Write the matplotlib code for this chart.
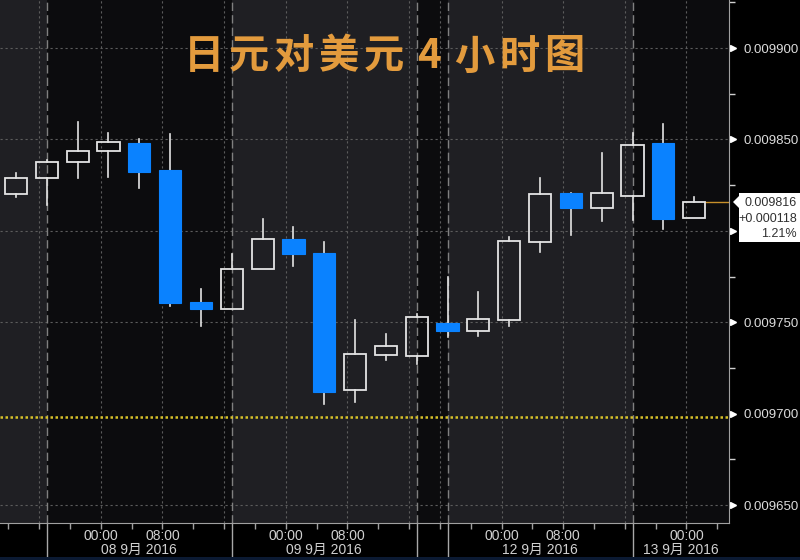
import matplotlib

matplotlib.use("Agg")
import matplotlib.pyplot as plt
from matplotlib.patches import Rectangle, Polygon

plt.rcParams["font.family"] = ["Noto Sans CJK SC", "DejaVu Sans"]

# 4-hour JPY/USD candles
opens = [0.0098201, 0.0098289, 0.0098376, 0.0098436, 0.0098480, 0.0098332,
         0.0097610, 0.0097572, 0.0097791, 0.0097955, 0.0097878, 0.0097129,
         0.0097321, 0.0097315, 0.0097496, 0.0097452, 0.0097512, 0.0097939,
         0.0098207, 0.0098125, 0.0098190, 0.0098480, 0.0098070]
highs = [0.0098316, 0.0098387, 0.0098595, 0.0098535, 0.0098502, 0.0098529,
         0.0097682, 0.0097873, 0.0098064, 0.0098021, 0.0097939, 0.0097512,
         0.0097435, 0.0097545, 0.0097747, 0.0097665, 0.0097966, 0.0098289,
         0.0098207, 0.0098425, 0.0098535, 0.0098584, 0.0098185]
lows = [0.0098185, 0.0098141, 0.0098289, 0.0098294, 0.0098234, 0.0097589,
        0.0097479, 0.0097572, 0.0097791, 0.0097807, 0.0097052, 0.0097063,
        0.0097293, 0.0097271, 0.0097419, 0.0097424, 0.0097479, 0.0097884,
        0.0097977, 0.0098053, 0.0098059, 0.0098010, 0.0098070]
closes = [0.0098289, 0.0098376, 0.0098436, 0.0098486, 0.0098322, 0.0097605,
          0.0097572, 0.0097791, 0.0097955, 0.0097873, 0.0097118, 0.0097326,
          0.0097370, 0.0097528, 0.0097452, 0.0097517, 0.0097944, 0.0098201,
          0.0098125, 0.0098207, 0.0098469, 0.0098064, 0.0098160]

prev_close = 0.009698
last_label = ["0.009816", "+0.000118", "1.21%"]
title = "日元对美元4小时图"

y_ticks = [0.009650, 0.009700, 0.009750, 0.009800, 0.009850, 0.009900]
y_minor = [0.009675, 0.009725, 0.009775, 0.009825, 0.009875, 0.009925]

# x positions are candle indices; 00:00/08:00 fall between candles
hour_ticks = [2.75, 4.75, 8.75, 10.75, 15.75, 17.75, 21.75]
hour_labels = ["00:00", "08:00", "00:00", "08:00", "00:00", "08:00", "00:00"]
grid_x = [0.75, 2.75, 4.75, 6.75, 8.75, 10.75, 12.75, 13.75, 15.75, 17.75,
          19.75, 21.75]
session_x = [1, 7, 13, 14, 20]
dark_spans = [(1, 7), (13, 14), (20, 23.2)]
date_x = [4.0, 10.0, 17.0, 21.57]
date_labels = ["08 9月 2016", "09 9月 2016", "12 9月 2016", "13 9月 2016"]

BLUE = "#0a82ff"
WHITE = "#e4e4e4"
LBL = ["Liberation Sans", "Noto Sans CJK SC"]

fig = plt.figure(figsize=(8, 5.6), dpi=100, facecolor="black")
ax = fig.add_axes([0, 37 / 560, 729 / 800, 523 / 560])
ax.set_facecolor("#1f1f23")
ax.set_xlim(-0.519, 23.13)
ax.set_ylim(0.0096402, 0.0099263)

for a, b in dark_spans:
    ax.axvspan(a, b, color="#0c0c0e", zorder=0, lw=0)

for y in y_ticks:
    if y != 0.009700:
        ax.axhline(y, color="#5c5c5c", lw=0.8, ls=(0, (2, 2.5)), zorder=1)
for x in grid_x:
    ax.axvline(x, color="#5c5c5c", lw=0.8, ls=(0, (2, 2.5)), zorder=1)
for x in session_x:
    ax.axvline(x, color="#808080", lw=1.0, ls=(0, (6, 3)), zorder=1)

ax.axhline(prev_close, color="#d8c22a", lw=1.8, ls=(0, (1, 1)), zorder=2)

w = 0.72
for i, (o, h, l, c) in enumerate(zip(opens, highs, lows, closes)):
    top, bot = max(o, c), min(o, c)
    if c >= o:
        ax.plot([i, i], [top, h], color=WHITE, lw=1.2, zorder=3)
        ax.plot([i, i], [l, bot], color=WHITE, lw=1.2, zorder=3)
        ax.add_patch(Rectangle((i - w / 2, bot), w, top - bot, fill=False,
                               ec=WHITE, lw=1.3, zorder=4))
    else:
        ax.plot([i, i], [l, h], color=WHITE, lw=1.2, zorder=3)
        ax.add_patch(Rectangle((i - w / 2, bot), w, top - bot, fc=BLUE,
                               ec=BLUE, lw=0.8, zorder=4))

# last price line to the axis
n = len(closes)
ax.plot([n - 1 + w / 2, 23.13], [closes[-1], closes[-1]], color="#c8902a",
        lw=1.0, zorder=3)

for s in ["top", "left"]:
    ax.spines[s].set_visible(False)
ax.spines["right"].set_color("#a0a0a0")
ax.spines["bottom"].set_color("#a0a0a0")

ax.yaxis.tick_right()
ax.set_yticks(y_ticks)
ax.set_yticklabels(["%.6f" % v if v != 0.009800 else "" for v in y_ticks],
                   family=LBL)
ax.set_yticks(y_minor, minor=True)
ax.tick_params(axis="y", which="major", length=0, pad=10.5, labelsize=9.5,
               labelcolor="#dcdcdc")
ax.tick_params(axis="y", which="minor", length=4, width=1, color="#d0d0d0")
ytr = ax.get_yaxis_transform()
ax.plot([1.006] * len(y_ticks), y_ticks, ls="none", marker=">",
        ms=5, color="white", transform=ytr, clip_on=False)

ax.set_xticks(hour_ticks)
ax.set_xticklabels(hour_labels, family=LBL)
ax.set_xticks([k + 0.75 for k in range(-1, 23)], minor=True)
ax.tick_params(axis="x", which="both", length=4, width=1, color="#a0a0a0",
               labelsize=10, labelcolor="#d0d0d0", pad=0.5)

xtr = ax.get_xaxis_transform()
for x in session_x:
    ax.plot([x, x], [0, -0.066], color="#a8a8a8", lw=1.0, transform=xtr,
            clip_on=False)
for x, lab in zip(date_x, date_labels):
    ax.text(x, -0.052, lab, transform=xtr, ha="center", va="center",
            fontsize=10, color="#d0d0d0", family=LBL)

# bottom strip
fig.add_artist(Rectangle((0, 0), 1, 3.5 / 560, transform=fig.transFigure,
                         fc="#0b1a33", ec="none"))

# last price box (drawn above the axis tick markers)
bx0, bx1, by0, by1, py = 733 / 800, 1.0, 1 - 242 / 560, 1 - 193 / 560, 1 - 202 / 560
fig.add_artist(Polygon([(bx0 + 6 / 800, by0), (bx1, by0), (bx1, by1),
                        (bx0 + 6 / 800, by1), (bx0 + 6 / 800, py + 6 / 560),
                        (bx0, py), (bx0 + 6 / 800, py - 6 / 560)],
                       closed=True, transform=fig.transFigure, fc="white",
                       ec="none", zorder=5))
for k, s in enumerate(last_label):
    fig.text(797 / 800, 1 - (203 + 15.5 * k) / 560, s, ha="right", va="center",
             fontsize=9, color="#303030", zorder=6, family=LBL)

# title characters spread out like the original lettering
for k, ch in enumerate(title):
    fig.text((204 + 45 * k) / 800, 1 - 57 / 560, ch, ha="center", va="center",
             fontsize=29, fontweight="bold", color="#e39b3d")

fig.savefig("out.png", dpi=100, facecolor="black")
